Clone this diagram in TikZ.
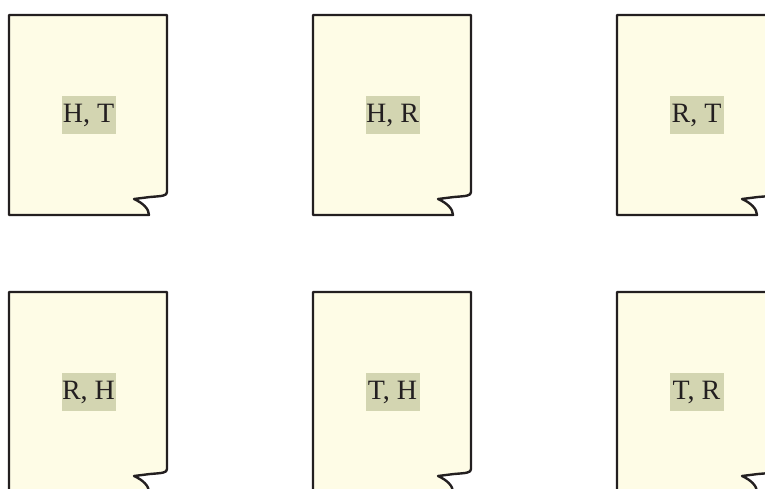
\documentclass[tikz,border=0pt]{standalone}
\usepackage{fontspec}
\setmainfont{Liberation Serif}
\usepackage{tikz}
\definecolor{noteFill}{RGB}{254, 252, 230}
\definecolor{noteLine}{RGB}{35, 31, 32}
\definecolor{tagFill}{RGB}{211, 213, 177}

\tikzset{
  note/.style={fill=noteFill, draw=noteLine, line width=2.4pt, line join=round},
  tag/.style={fill=tagFill, text=noteLine, inner sep=0pt, minimum width=54pt, minimum height=38pt, font=\fontsize{28}{30}\selectfont}
}

\begin{document}
\begin{tikzpicture}[x=1pt, y=-1pt]
        \useasboundingbox (0,0) rectangle (765,489);
        % six notes, three per row
        \foreach \x/\y/\txt/\nm in {9/15/{H, T}/ht, 313/15/{H, R}/hr, 617/15/{R, T}/rt,
                                    9/292/{R, H}/rh, 313/292/{T, H}/th, 617/292/{T, R}/tr} {
          \draw[note, shift={(\x,\y)}] (0,0) -- (158,0) -- (158,177)
            .. controls (158,181) and (153,181) .. (141,182) -- (125,184)
            .. controls (134,188) and (140,194) .. (140,200) -- (0,200) -- cycle;
          \node[tag] (\nm) at (\x+79.5,\y+100) {\txt};
        }
      \end{tikzpicture}
\end{document}
